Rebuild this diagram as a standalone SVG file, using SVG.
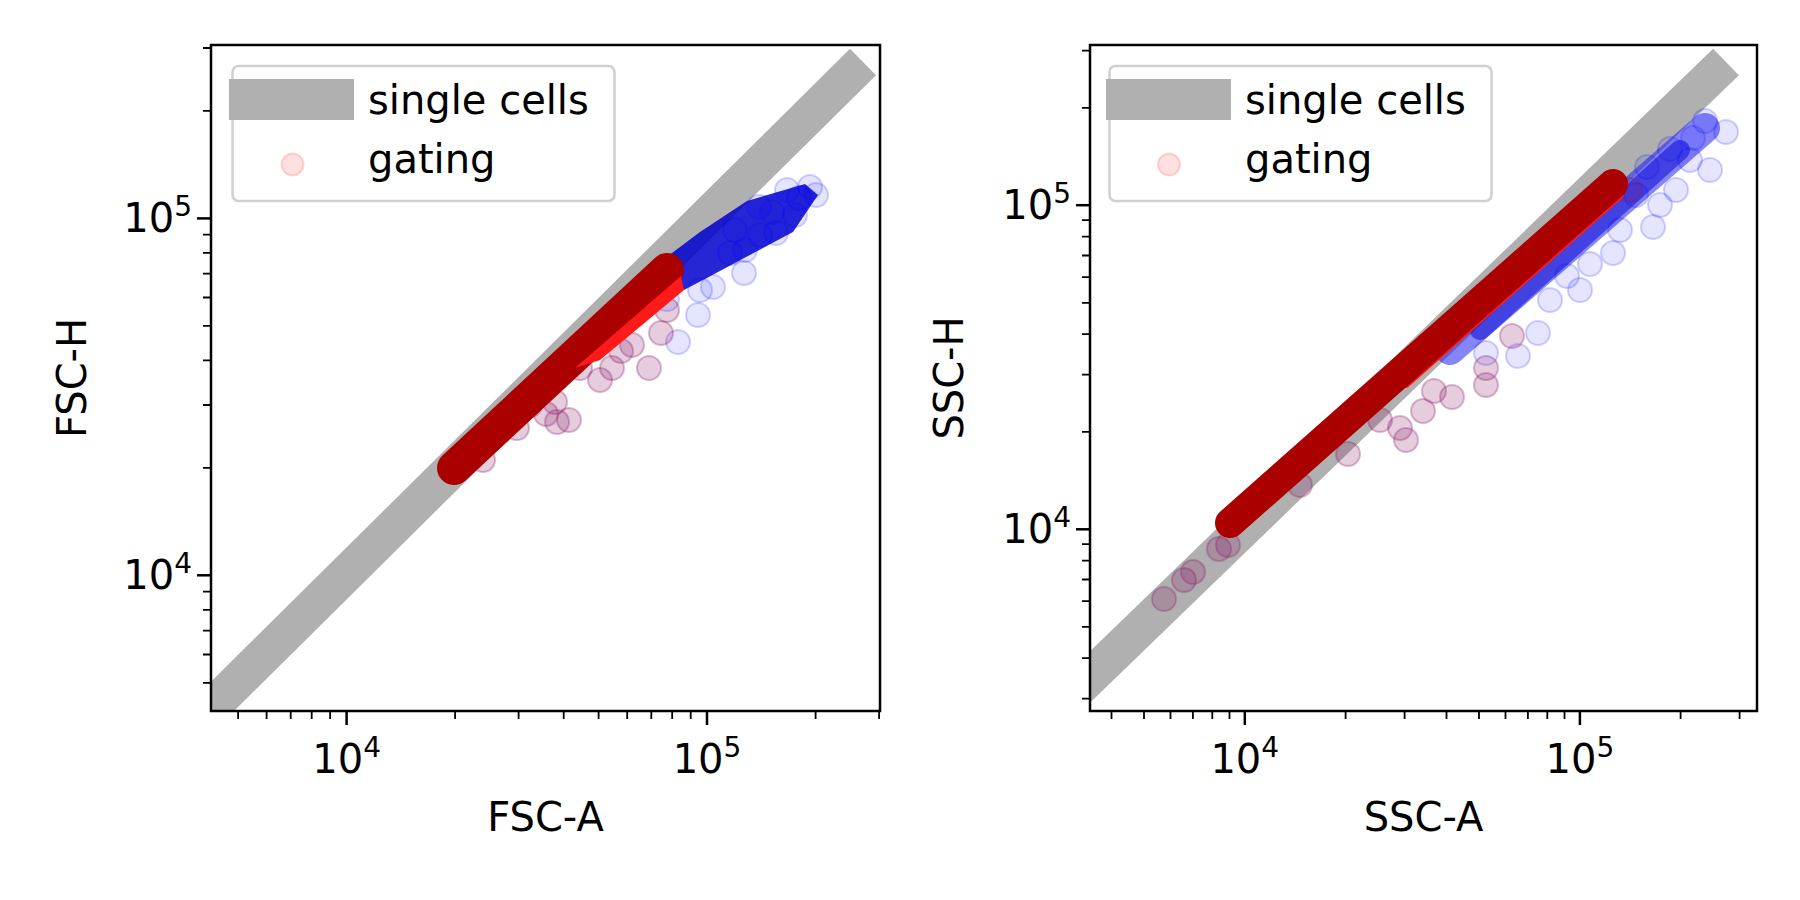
<svg xmlns="http://www.w3.org/2000/svg" width="1800" height="900" viewBox="0 0 1800 900">
<style>
text{font-family:"DejaVu Sans",sans-serif;font-size:40px;fill:#000}
.sup{font-size:28px}
.ax{fill:none;stroke:#000;stroke-width:2.5}
.tk{stroke:#000;stroke-width:2.5}
.mt{stroke:#000;stroke-width:1.8}
.b{fill:#0000ff;fill-opacity:.1;stroke:#0000ff;stroke-opacity:.18;stroke-width:2}
.p{fill:#8a1a6a;fill-opacity:.22;stroke:#8a1a6a;stroke-opacity:.3;stroke-width:2}
.band{stroke:#b0b0b0;stroke-linecap:butt}
.leg{fill:#fff;fill-opacity:.8;stroke:#d0d0d0;stroke-width:2.5}
</style>
<defs>
<clipPath id="c1"><rect x="211" y="45" width="669" height="666"/></clipPath>
<clipPath id="c2"><rect x="1090" y="45" width="667" height="666"/></clipPath>
</defs>
<rect width="1800" height="900" fill="#fff"/>
<g id="plot-left">
<g clip-path="url(#c1)">
<line class="band" x1="863" y1="62" x2="140" y2="778" stroke-width="37"/>
<g id="blue-left">
<polygon points="660,262 700,232 747,201 805,184 818,195 793,232 718,272 684,290" fill="#0000cc" fill-opacity=".85"/>
<circle class="b" cx="744" cy="273" r="12"/><circle class="b" cx="698" cy="315" r="12"/><circle class="b" cx="678" cy="342" r="12"/>
<circle class="b" cx="713" cy="287" r="12"/><circle class="b" cx="776" cy="233" r="12"/><circle class="b" cx="799" cy="198" r="12"/>
<circle class="b" cx="810" cy="187" r="12"/><circle class="b" cx="787" cy="190" r="12"/><circle class="b" cx="759" cy="207" r="12"/>
<circle class="b" cx="730" cy="253" r="12"/><circle class="b" cx="667" cy="299" r="12"/><circle class="b" cx="772" cy="212" r="12"/>
<circle class="b" cx="795" cy="215" r="12"/><circle class="b" cx="760" cy="235" r="12"/><circle class="b" cx="735" cy="230" r="12"/>
<circle class="b" cx="700" cy="290" r="12"/><circle class="b" cx="816" cy="195" r="12"/><circle class="b" cx="745" cy="250" r="12"/>
</g>
<g id="purple-left">
<circle class="p" cx="649" cy="368" r="12"/><circle class="p" cx="569" cy="420" r="12"/><circle class="p" cx="557" cy="422" r="12"/>
<circle class="p" cx="555" cy="402" r="12"/><circle class="p" cx="612" cy="368" r="12"/><circle class="p" cx="632" cy="345" r="12"/>
<circle class="p" cx="661" cy="333" r="12"/><circle class="p" cx="667" cy="310" r="12"/><circle class="p" cx="580" cy="368" r="12"/>
<circle class="p" cx="517" cy="428" r="12"/><circle class="p" cx="483" cy="460" r="12"/><circle class="p" cx="546" cy="414" r="12"/>
<circle class="p" cx="621" cy="351" r="12"/><circle class="p" cx="600" cy="380" r="12"/><circle class="p" cx="530" cy="405" r="12"/>
</g>
<line x1="454" y1="468" x2="667" y2="270" stroke="#aa0000" stroke-width="34" stroke-linecap="round"/>
<polygon points="575,368 681,276 684,290 600,360" fill="#ff1a1a"/>
</g>
<rect class="ax" x="211" y="45" width="669" height="666"/>
<g class="tk">
<line x1="211" y1="218.4" x2="197" y2="218.4"/><line x1="211" y1="575.3" x2="197" y2="575.3"/>
<line x1="346.6" y1="711" x2="346.6" y2="725"/><line x1="707" y1="711" x2="707" y2="725"/>
</g>
<g class="mt">
<path d="M211 682.8h-8M211 654.5h-8M211 630.6h-8M211 609.9h-8M211 591.6h-8M211 467.8h-8M211 405h-8M211 360.4h-8M211 325.8h-8M211 297.5h-8M211 273.6h-8M211 252.9h-8M211 234.6h-8M211 110.9h-8M211 48h-8"/>
<path d="M238.1 711v8M266.6 711v8M290.7 711v8M311.7 711v8M330.1 711v8M455.1 711v8M518.6 711v8M563.7 711v8M598.6 711v8M627.2 711v8M651.3 711v8M672.2 711v8M690.7 711v8M815.6 711v8M879.1 711v8"/>
</g>
<text x="192" y="232" text-anchor="end">10<tspan class="sup" dy="-16">5</tspan></text>
<text x="192" y="589" text-anchor="end">10<tspan class="sup" dy="-16">4</tspan></text>
<text x="346.6" y="773" text-anchor="middle">10<tspan class="sup" dy="-16">4</tspan></text>
<text x="707" y="773" text-anchor="middle">10<tspan class="sup" dy="-16">5</tspan></text>
<text x="545.5" y="831" text-anchor="middle">FSC-A</text>
<text transform="translate(86 378) rotate(-90)" text-anchor="middle">FSC-H</text>
<g id="legend-left">
<rect class="leg" x="232.5" y="66" width="382" height="135" rx="6"/>
<line x1="229" y1="99.5" x2="354" y2="99.5" stroke="#b0b0b0" stroke-width="41"/>
<circle cx="292.6" cy="164.5" r="11" fill="#ff0000" fill-opacity=".12" stroke="#ff0000" stroke-opacity=".15" stroke-width="2"/>
<text x="368" y="114">single cells</text>
<text x="368" y="173">gating</text>
</g>
</g>
<g id="plot-right">
<g clip-path="url(#c2)">
<line class="band" x1="1726" y1="62" x2="1000" y2="764" stroke-width="37"/>
<g id="blue-right">
<line x1="1450" y1="350" x2="1705" y2="128" stroke="#2020f0" stroke-opacity=".55" stroke-width="30" stroke-linecap="round"/>
<line x1="1480" y1="330" x2="1680" y2="150" stroke="#0000d0" stroke-opacity=".5" stroke-width="20" stroke-linecap="round"/>
<circle class="b" cx="1726" cy="132" r="12"/><circle class="b" cx="1710" cy="170" r="12"/><circle class="b" cx="1705" cy="121" r="12"/>
<circle class="b" cx="1693" cy="138" r="12"/><circle class="b" cx="1676" cy="190" r="12"/><circle class="b" cx="1653" cy="227" r="12"/>
<circle class="b" cx="1613" cy="253" r="12"/><circle class="b" cx="1538" cy="333" r="12"/><circle class="b" cx="1518" cy="356" r="12"/>
<circle class="b" cx="1647" cy="167" r="12"/><circle class="b" cx="1670" cy="149" r="12"/><circle class="b" cx="1636" cy="195" r="12"/>
<circle class="b" cx="1590" cy="264" r="12"/><circle class="b" cx="1567" cy="276" r="12"/><circle class="b" cx="1486" cy="353" r="12"/>
<circle class="b" cx="1660" cy="205" r="12"/><circle class="b" cx="1620" cy="230" r="12"/><circle class="b" cx="1580" cy="290" r="12"/>
<circle class="b" cx="1690" cy="160" r="12"/><circle class="b" cx="1550" cy="300" r="12"/>
</g>
<g id="purple-right">
<circle class="p" cx="1164" cy="599" r="12"/><circle class="p" cx="1184" cy="580" r="12"/><circle class="p" cx="1193" cy="572" r="12"/>
<circle class="p" cx="1219" cy="549" r="12"/><circle class="p" cx="1406" cy="440" r="12"/><circle class="p" cx="1400" cy="428" r="12"/>
<circle class="p" cx="1452" cy="397" r="12"/><circle class="p" cx="1486" cy="385" r="12"/><circle class="p" cx="1512" cy="336" r="12"/>
<circle class="p" cx="1348" cy="454" r="12"/><circle class="p" cx="1434" cy="391" r="12"/><circle class="p" cx="1486" cy="368" r="12"/>
<circle class="p" cx="1423" cy="411" r="12"/><circle class="p" cx="1228" cy="545" r="12"/><circle class="p" cx="1630" cy="190" r="12"/>
<circle class="p" cx="1612" cy="184" r="12"/><circle class="p" cx="1300" cy="485" r="12"/><circle class="p" cx="1380" cy="420" r="12"/>
</g>
<line x1="1405" y1="382" x2="1618" y2="194" stroke="#ff1a1a" stroke-width="12" stroke-linecap="round"/>
<line x1="1230" y1="523" x2="1613" y2="184" stroke="#aa0000" stroke-width="30" stroke-linecap="round"/>
</g>
<rect class="ax" x="1090" y="45" width="667" height="666"/>
<g class="tk">
<line x1="1090" y1="205.2" x2="1076" y2="205.2"/><line x1="1090" y1="529.3" x2="1076" y2="529.3"/>
<line x1="1244.8" y1="711" x2="1244.8" y2="725"/><line x1="1579.9" y1="711" x2="1579.9" y2="725"/>
</g>
<g class="mt">
<path d="M1090 698.7h-8M1090 658.2h-8M1090 626.8h-8M1090 601.2h-8M1090 579.5h-8M1090 560.7h-8M1090 544.1h-8M1090 431.8h-8M1090 374.7h-8M1090 334.2h-8M1090 302.9h-8M1090 277.2h-8M1090 255.5h-8M1090 236.7h-8M1090 220.1h-8M1090 107.8h-8M1090 50.7h-8"/>
<path d="M1111.5 711v8M1144 711v8M1170.5 711v8M1192.9 711v8M1212.3 711v8M1229.5 711v8M1345.6 711v8M1404.6 711v8M1446.5 711v8M1479 711v8M1505.5 711v8M1527.9 711v8M1547.3 711v8M1564.5 711v8M1680.6 711v8M1739.6 711v8"/>
</g>
<text x="1071" y="219" text-anchor="end">10<tspan class="sup" dy="-16">5</tspan></text>
<text x="1071" y="543" text-anchor="end">10<tspan class="sup" dy="-16">4</tspan></text>
<text x="1244.8" y="773" text-anchor="middle">10<tspan class="sup" dy="-16">4</tspan></text>
<text x="1579.9" y="773" text-anchor="middle">10<tspan class="sup" dy="-16">5</tspan></text>
<text x="1423.5" y="831" text-anchor="middle">SSC-A</text>
<text transform="translate(963 378) rotate(-90)" text-anchor="middle">SSC-H</text>
<g id="legend-right">
<rect class="leg" x="1109.5" y="66" width="382" height="135" rx="6"/>
<line x1="1106" y1="99.5" x2="1231" y2="99.5" stroke="#b0b0b0" stroke-width="41"/>
<circle cx="1169" cy="164.5" r="11" fill="#ff0000" fill-opacity=".12" stroke="#ff0000" stroke-opacity=".15" stroke-width="2"/>
<text x="1245" y="114">single cells</text>
<text x="1245" y="173">gating</text>
</g>
</g>
</svg>
